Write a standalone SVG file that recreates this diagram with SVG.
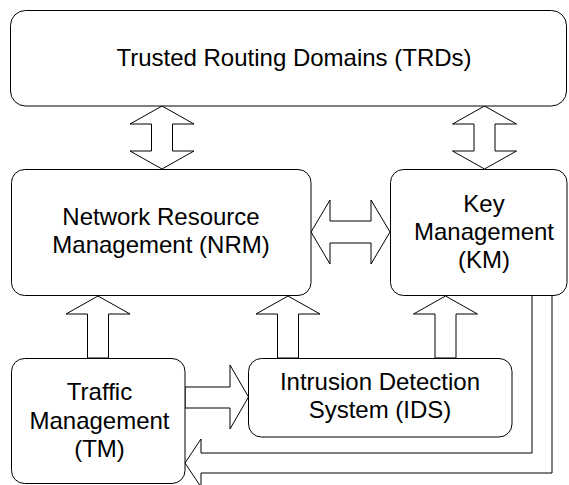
<svg xmlns="http://www.w3.org/2000/svg" width="569" height="485" viewBox="0 0 569 485">
<style>
.box{fill:#fff;stroke:#000;stroke-width:1}
.arr{fill:#fff;stroke:#000;stroke-width:1;stroke-linejoin:miter}
text{font-family:"Liberation Sans",Arial,sans-serif;font-size:24px;fill:#000;text-anchor:middle}
</style>
<rect width="569" height="485" fill="#fff"/>
<g id="connectors">
<polygon class="arr" points="162,106 194,124 172.5,124 172.5,151 194,151 162,169 130,151 151.5,151 151.5,124 130,124"/>
<polygon class="arr" points="484.5,106 516.5,124 495,124 495,151 516.5,151 484.5,169 452.5,151 474,151 474,124 452.5,124"/>
<polygon class="arr" points="311,232 330,200 330,221 371,221 371,200 390,232 371,264 371,243 330,243 330,264"/>
<polygon class="arr" points="98,296 130,314 108.5,314 108.5,358 87.5,358 87.5,314 66,314"/>
<polygon class="arr" points="288,296 320,314 298.5,314 298.5,358 277.5,358 277.5,314 256,314"/>
<polygon class="arr" points="445.5,296 477.5,314 456,314 456,358 435,358 435,314 413.5,314"/>
<polygon class="arr" points="185,387 230,387 230,365 248.5,397 230,429 230,408 185,408"/>
<path class="arr" d="M532,295 L532,453 L201,453 L201,439 L185,463 L201,487 L201,473 L552,473 L552,295"/>
</g>
<g id="trd">
<rect class="box" x="10.5" y="10.5" width="556" height="95.5" rx="15" ry="15"/>
<text x="294" y="66">Trusted Routing Domains (TRDs)</text>
</g>
<g id="nrm">
<rect class="box" x="11.5" y="169.5" width="299.5" height="126" rx="13" ry="13"/>
<text x="161" y="225">Network Resource</text>
<text x="161" y="253">Management (NRM)</text>
</g>
<g id="km">
<rect class="box" x="390.5" y="169.5" width="176.5" height="126" rx="13" ry="13"/>
<text x="484" y="212">Key</text>
<text x="484" y="240">Management</text>
<text x="484" y="267.5">(KM)</text>
</g>
<g id="tm">
<rect class="box" x="11.5" y="358.5" width="173.5" height="125" rx="13" ry="13"/>
<text x="99.5" y="400">Traffic</text>
<text x="99.5" y="429">Management</text>
<text x="99.5" y="457">(TM)</text>
</g>
<g id="ids">
<rect class="box" x="248.5" y="358.5" width="263.5" height="78.5" rx="13" ry="13"/>
<text x="380" y="390">Intrusion Detection</text>
<text x="380" y="418">System (IDS)</text>
</g>
</svg>
